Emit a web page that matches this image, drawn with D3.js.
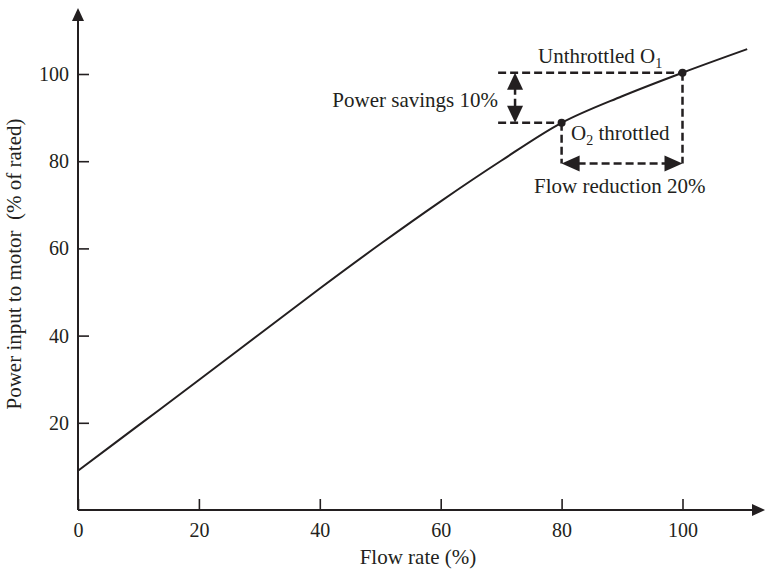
<!DOCTYPE html>
<html>
<head>
<meta charset="utf-8">
<script src="https://cdn.jsdelivr.net/npm/d3@7"></script>
<style>
  body { margin: 0; background: #fff; }
  svg text { font-family: "Liberation Serif", "DejaVu Serif", serif; fill: #231f20; }
</style>
</head>
<body>
<svg width="765" height="570"></svg>
<script>
// curve: flow rate (%) -> power input (% of rated)
var flow  = [0, 10, 20, 30, 40, 50, 60, 70, 80, 90, 100, 110.7];
var power = [9, 19.4, 29.8, 40.3, 50.8, 61, 70.8, 80.1, 88.8, 94.9, 100.3, 105.7];
var xTicks = [0, 20, 40, 60, 80, 100];
var yTicks = [20, 40, 60, 80, 100];

// operating points
var opFlow = [100, 80];
var opPower = [100.3, 88.8];

var svg = d3.select('svg');
var ink = '#231f20';

var xScale = d3.scaleLinear().domain([0, 100]).range([78, 682.5]);
var yScale = d3.scaleLinear().domain([0, 100]).range([510, 74]);

// axes (ticks point inward)
var xAxis = d3.axisBottom(xScale).tickValues(xTicks).tickSizeInner(-11).tickSizeOuter(0).tickPadding(9);
var yAxis = d3.axisLeft(yScale).tickValues(yTicks).tickSizeInner(-11).tickSizeOuter(0).tickPadding(9);

var gx = svg.append('g').attr('transform', 'translate(0,' + yScale(0) + ')').call(xAxis);
var gy = svg.append('g').attr('transform', 'translate(' + xScale(0) + ',0)').call(yAxis);
gx.select('.domain').remove();
gy.select('.domain').remove();
[gx, gy].forEach(function(g) {
  g.selectAll('line').attr('stroke', ink).attr('stroke-width', 1.6);
  g.selectAll('text').attr('font-size', 20).attr('fill', ink)
    .style('font-family', '"Liberation Serif", serif');
});
gx.selectAll('text').attr('dy', '0.9em');

// axis lines with arrowheads
var x0 = xScale(0), y0 = yScale(0);
svg.append('line').attr('x1', x0).attr('y1', y0).attr('x2', 755).attr('y2', y0)
  .attr('stroke', ink).attr('stroke-width', 2);
svg.append('line').attr('x1', x0).attr('y1', y0).attr('x2', x0).attr('y2', 18)
  .attr('stroke', ink).attr('stroke-width', 2);
svg.append('path').attr('d', 'M765,' + y0 + 'L752,' + (y0 - 6) + 'L752,' + (y0 + 6) + 'Z').attr('fill', ink);
svg.append('path').attr('d', 'M' + x0 + ',8L' + (x0 - 6) + ',21L' + (x0 + 6) + ',21Z').attr('fill', ink);

// axis titles
svg.append('text').attr('x', 418).attr('y', 564).attr('text-anchor', 'middle')
  .attr('font-size', 21).text('Flow rate (%)');
svg.append('text').attr('transform', 'translate(21,264) rotate(-90)').attr('text-anchor', 'middle')
  .attr('font-size', 21).attr('xml:space', 'preserve').text('Power input to motor  (% of rated)');

// curve
var line = d3.line()
  .x(function(d, i) { return xScale(flow[i]); })
  .y(function(d, i) { return yScale(power[i]); })
  .curve(d3.curveCatmullRom);
svg.append('path').datum(flow).attr('d', line)
  .attr('fill', 'none').attr('stroke', ink).attr('stroke-width', 2);

// dashed guides
var dash = '8,4';
var guideStart = 69.5;   // flow where the horizontal guides start
var arrowPowerY = 79.5;  // level of the flow-reduction arrow
var arrowFlowX = 72.3;   // position of the power-savings arrow
function dline(xa, ya, xb, yb) {
  svg.append('line').attr('x1', xa).attr('y1', ya).attr('x2', xb).attr('y2', yb)
    .attr('stroke', ink).attr('stroke-width', 2.5).attr('stroke-dasharray', dash);
}
dline(xScale(guideStart), yScale(opPower[0]), xScale(opFlow[0]), yScale(opPower[0]));
dline(xScale(guideStart), yScale(opPower[1]), xScale(opFlow[1]), yScale(opPower[1]));
dline(xScale(opFlow[0]), yScale(opPower[0]), xScale(opFlow[0]), yScale(arrowPowerY));
dline(xScale(opFlow[1]), yScale(opPower[1]), xScale(opFlow[1]), yScale(arrowPowerY));

// power savings arrow (vertical, both ends)
var ax = xScale(arrowFlowX), ay1 = yScale(opPower[0]), ay2 = yScale(opPower[1]);
dline(ax, ay1 + 14, ax, ay2 - 14);
svg.append('path').attr('d', 'M' + ax + ',' + ay1 + 'L' + (ax - 8) + ',' + (ay1 + 17) + 'L' + (ax + 8) + ',' + (ay1 + 17) + 'Z').attr('fill', ink);
svg.append('path').attr('d', 'M' + ax + ',' + ay2 + 'L' + (ax - 8) + ',' + (ay2 - 17) + 'L' + (ax + 8) + ',' + (ay2 - 17) + 'Z').attr('fill', ink);

// flow reduction arrow (horizontal, both ends)
var hy = yScale(arrowPowerY), hx1 = xScale(opFlow[1]), hx2 = xScale(opFlow[0]);
dline(hx1 + 16, hy, hx2 - 16, hy);
svg.append('path').attr('d', 'M' + hx1 + ',' + hy + 'L' + (hx1 + 18) + ',' + (hy - 8) + 'L' + (hx1 + 18) + ',' + (hy + 8) + 'Z').attr('fill', ink);
svg.append('path').attr('d', 'M' + hx2 + ',' + hy + 'L' + (hx2 - 18) + ',' + (hy - 8) + 'L' + (hx2 - 18) + ',' + (hy + 8) + 'Z').attr('fill', ink);

// operating points
svg.selectAll('circle.op').data(opFlow).enter().append('circle')
  .attr('class', 'op')
  .attr('cx', function(d) { return xScale(d); })
  .attr('cy', function(d, i) { return yScale(opPower[i]); })
  .attr('r', 4).attr('fill', ink);

// annotations
var t1 = svg.append('text').attr('x', 538).attr('y', 63).attr('font-size', 21);
t1.append('tspan').text('Unthrottled O');
t1.append('tspan').attr('font-size', 14).attr('dy', 5).text('1');

var t2 = svg.append('text').attr('x', 571).attr('y', 140).attr('font-size', 21);
t2.append('tspan').text('O');
t2.append('tspan').attr('font-size', 14).attr('dy', 5).text('2');
t2.append('tspan').attr('dy', -5).text(' throttled');

svg.append('text').attr('x', 534).attr('y', 193).attr('font-size', 21).text('Flow reduction 20%');
svg.append('text').attr('x', 498).attr('y', 107).attr('text-anchor', 'end')
  .attr('font-size', 21).text('Power savings 10%');
</script>
</body>
</html>
